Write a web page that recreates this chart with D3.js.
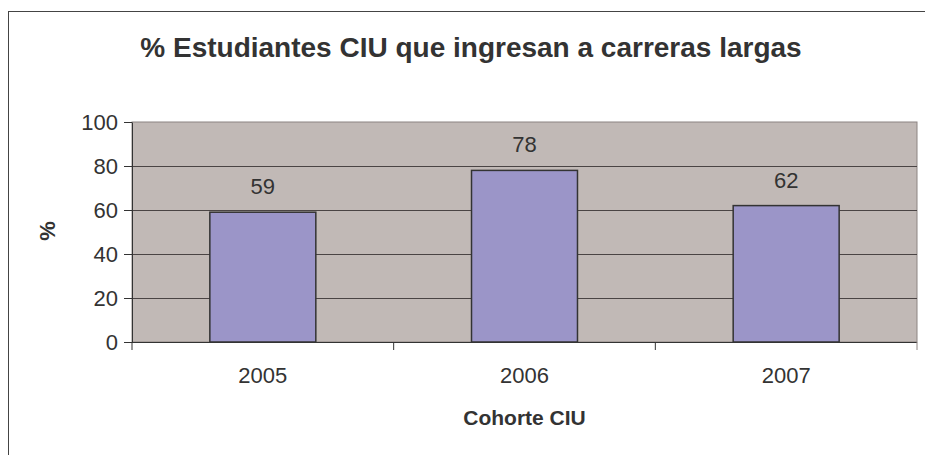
<!DOCTYPE html>
<html>
<head>
<meta charset="utf-8">
<script src="https://cdn.jsdelivr.net/npm/d3@7"></script>
<style>
  body { margin: 0; background: #fff; }
  text { font-family: "Liberation Sans", Arial, sans-serif; fill: #333; }
</style>
</head>
<body>
<svg id="chart" width="925" height="455"></svg>
<script>
const categories = ["2005", "2006", "2007"];
const values = [59, 78, 62];
const yTicks = [0, 20, 40, 60, 80, 100];

const svg = d3.select("#chart");
const plot = { left: 132, top: 122, right: 917, bottom: 342 };

// outer chart border
svg.append("rect")
    .attr("x", 8.5).attr("y", 11.5)
    .attr("width", 930).attr("height", 460)
    .attr("fill", "none").attr("stroke", "#444").attr("stroke-width", 1);

const x = d3.scaleBand()
    .domain(categories)
    .range([plot.left, plot.right])
    .paddingInner(0.595)
    .paddingOuter(0.2975);

const y = d3.scaleLinear().domain([0, 100]).range([plot.bottom, plot.top]);

// plot background
svg.append("rect")
    .attr("x", plot.left).attr("y", plot.top)
    .attr("width", plot.right - plot.left).attr("height", plot.bottom - plot.top)
    .attr("fill", "#c1b9b6")
    .attr("stroke", "#8c8482");

// gridlines
svg.append("g")
    .selectAll("line")
    .data(yTicks.filter(d => d > 0 && d < 100))
    .enter()
    .append("line")
    .attr("x1", plot.left).attr("x2", plot.right)
    .attr("y1", d => Math.round(y(d)) + 0.5).attr("y2", d => Math.round(y(d)) + 0.5)
    .attr("stroke", "#4a4444");

// bars
svg.append("g")
    .selectAll("rect")
    .data(values)
    .enter()
    .append("rect")
    .attr("x", (d, i) => x(categories[i]))
    .attr("y", d => y(d))
    .attr("width", x.bandwidth())
    .attr("height", d => y(0) - y(d))
    .attr("fill", "#9b95c8")
    .attr("stroke", "#333")
    .attr("stroke-width", 1.5);

// value labels
svg.append("g")
    .selectAll("text")
    .data(values)
    .enter()
    .append("text")
    .attr("x", (d, i) => x(categories[i]) + x.bandwidth() / 2)
    .attr("y", d => y(d) - 18)
    .attr("text-anchor", "middle")
    .style("font-size", "22px")
    .text(d => d);

// y axis
const yAxis = svg.append("g")
    .attr("transform", `translate(${plot.left},0)`)
    .call(d3.axisLeft(y).tickValues(yTicks).tickSize(8).tickSizeOuter(0).tickPadding(6));
yAxis.select(".domain").attr("stroke", "#333");
yAxis.selectAll(".tick line").attr("stroke", "#333");
yAxis.selectAll(".tick text")
    .style("font-size", "22px")
    .style("font-family", "'Liberation Sans', Arial, sans-serif")
    .attr("fill", "#333");

// x axis with ticks between categories
const xEdges = d3.scaleLinear().domain([0, categories.length]).range([plot.left, plot.right]);
const xAxis = svg.append("g")
    .attr("transform", `translate(0,${plot.bottom})`);
xAxis.append("line")
    .attr("x1", plot.left).attr("x2", plot.right)
    .attr("y1", 0.5).attr("y2", 0.5)
    .attr("stroke", "#333");
xAxis.selectAll("line.tick")
    .data(d3.range(categories.length + 1))
    .enter()
    .append("line")
    .attr("class", "tick")
    .attr("x1", d => xEdges(d)).attr("x2", d => xEdges(d))
    .attr("y1", 0).attr("y2", 8)
    .attr("stroke", d => d === categories.length ? "#8c8482" : "#333");
xAxis.selectAll("text")
    .data(categories)
    .enter()
    .append("text")
    .attr("x", d => x(d) + x.bandwidth() / 2)
    .attr("y", 41)
    .attr("text-anchor", "middle")
    .style("font-size", "22px")
    .text(d => d);

// titles
svg.append("text")
    .attr("x", 471).attr("y", 57)
    .attr("text-anchor", "middle")
    .style("font-size", "28px")
    .style("font-weight", "bold")
    .text("% Estudiantes CIU que ingresan a carreras largas");

svg.append("text")
    .attr("x", (plot.left + plot.right) / 2).attr("y", 425)
    .attr("text-anchor", "middle")
    .style("font-size", "21px")
    .style("font-weight", "bold")
    .text("Cohorte CIU");

svg.append("text")
    .attr("transform", "translate(55,231) rotate(-90)")
    .attr("text-anchor", "middle")
    .style("font-size", "22px")
    .style("font-weight", "bold")
    .text("%");
</script>
</body>
</html>
